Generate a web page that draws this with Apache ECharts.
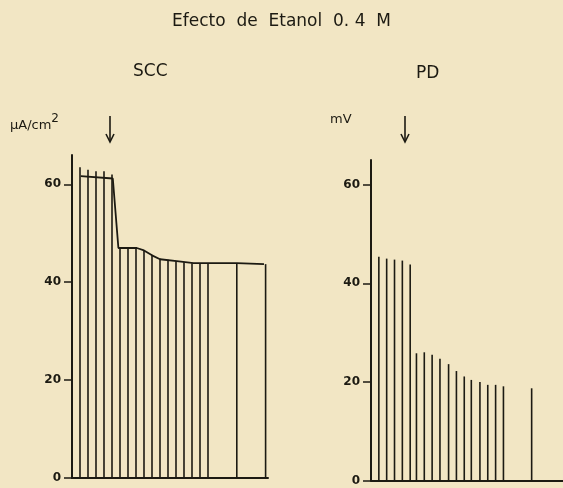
<!DOCTYPE html>
<html><head><meta charset="utf-8">
<script src="https://cdn.jsdelivr.net/npm/echarts@6/dist/echarts.min.js"></script>
<style>html,body{margin:0;padding:0;background:#f2e6c4;}#c{width:563px;height:488px;}</style>
</head><body><div id="c"></div>
<script>
// ---- data ----
const titleText = 'Efecto  de  Etanol  0. 4  M';
const panelNames = ['SCC', 'PD'];
const unitNames = ['μA/cm', 'mV'];
const yTicks = [0, 20, 40, 60];
// SCC pulses: time position and peak value (µA/cm²)
const sccPulseX = [1, 2, 3, 4, 5, 6, 7, 8, 9, 10, 11, 12, 13, 14, 15, 16, 17, 20.6, 24.2];
const sccPulseY = [63.5, 63.0, 62.7, 62.7, 62.0, 47.0, 47.0, 47.0, 46.5, 45.6, 44.8, 44.6, 44.3, 44.1, 43.9, 43.8, 43.8, 43.9, 43.7];
// SCC baseline trace
const sccTraceX = [1.1, 5.1, 5.8, 8.1, 9.0, 10.0, 11.0, 13.1, 15.2, 17.1, 20.6, 24.0];
const sccTraceY = [61.7, 61.2, 47.0, 47.0, 46.5, 45.5, 44.7, 44.3, 43.9, 43.9, 43.9, 43.7];
// PD pulses (mV)
const pdPulseX = [1, 2, 3, 4, 5, 5.8, 6.8, 7.8, 8.8, 9.9, 10.9, 11.9, 12.8, 13.9, 14.9, 15.9, 16.9, 20.5];
const pdPulseY = [45.4, 45.0, 44.8, 44.6, 43.8, 25.8, 26.0, 25.5, 24.7, 23.6, 22.2, 21.1, 20.4, 20.0, 19.4, 19.4, 19.1, 18.7];
// ethanol addition (arrow) time in each panel
const arrowAt = [4.8, 4.3];

const ink = '#1c1a12';
const font = 'DejaVu Sans';

function zip(a, b) { return a.map((v, i) => [v, b[i]]); }

const chart = echarts.init(document.getElementById('c'), null, {renderer: 'canvas'});
const xAxisBase = {
  type: 'value', min: 0, max: 24.5,
  axisLine: {show: true, lineStyle: {color: ink, width: 2}},
  axisTick: {show: false}, axisLabel: {show: false}, splitLine: {show: false}
};
const yAxisBase = {
  type: 'value', min: 0, interval: 20,
  axisLine: {show: true, lineStyle: {color: ink, width: 2}},
  axisTick: {show: true, length: 8, lineStyle: {color: ink, width: 1.5}},
  axisLabel: {color: ink, fontFamily: font, fontSize: 12, fontWeight: 'bold', margin: 11,
    showMaxLabel: false,
    formatter: v => yTicks.indexOf(v) >= 0 ? String(v) : ''},
  splitLine: {show: false}
};
chart.setOption({
  backgroundColor: '#f2e6c4',
  animation: false,
  title: [
    {text: titleText, left: 'center', top: 8, textStyle: {color: ink, fontFamily: font, fontSize: 17, fontWeight: 'normal'}},
    {text: panelNames[0], left: 128, top: 58, textStyle: {color: ink, fontFamily: font, fontSize: 17, fontWeight: 'normal'}},
    {text: panelNames[1], left: 411, top: 60, textStyle: {color: ink, fontFamily: font, fontSize: 17, fontWeight: 'normal'}},
    {text: '{a|' + unitNames[0] + '}{s|2}', left: 5, top: 108,
      textStyle: {rich: {a: {color: ink, fontFamily: font, fontSize: 13, fontWeight: 'normal', verticalAlign: 'bottom', padding: [6,0,0,0]}, s: {color: ink, fontFamily: font, fontSize: 12, fontWeight: 'normal', verticalAlign: 'top'}}}},
    {text: unitNames[1], left: 325, top: 108, textStyle: {color: ink, fontFamily: font, fontSize: 13, fontWeight: 'normal'}}
  ],
  grid: [
    {left: 72, top: 155, width: 196, height: 323},
    {left: 371, top: 160, width: 198.5, height: 320.5}
  ],
  xAxis: [
    Object.assign({}, xAxisBase, {gridIndex: 0}),
    Object.assign({}, xAxisBase, {gridIndex: 1})
  ],
  yAxis: [
    Object.assign({}, yAxisBase, {gridIndex: 0, max: 66}),
    Object.assign({}, yAxisBase, {gridIndex: 1, max: 65})
  ],
  series: [
    {type: 'bar', xAxisIndex: 0, yAxisIndex: 0, barWidth: 1.6, data: zip(sccPulseX, sccPulseY),
      itemStyle: {color: ink}},
    {type: 'line', xAxisIndex: 0, yAxisIndex: 0, data: zip(sccTraceX, sccTraceY), showSymbol: false,
      lineStyle: {color: ink, width: 1.8}},
    {type: 'bar', xAxisIndex: 1, yAxisIndex: 1, barWidth: 1.6, data: zip(pdPulseX, pdPulseY),
      itemStyle: {color: ink}}
  ]
});

// arrows marking ethanol addition, positioned via the axis scales
const arrows = arrowAt.map((t, i) => {
  const p = chart.convertToPixel({xAxisIndex: i, yAxisIndex: i}, [t, 0]);
  const x = Math.round(p[0]);
  const y0 = 116, y1 = 142;
  return {
    type: 'group', children: [
      {type: 'line', shape: {x1: x, y1: y0, x2: x, y2: y1 - 1}, style: {stroke: ink, lineWidth: 1.6}},
      {type: 'polyline', shape: {points: [[x - 4, y1 - 8], [x, y1], [x + 4, y1 - 8]]}, style: {stroke: ink, lineWidth: 1.6, fill: null}}
    ]
  };
});
chart.setOption({graphic: arrows});
</script>
</body></html>
